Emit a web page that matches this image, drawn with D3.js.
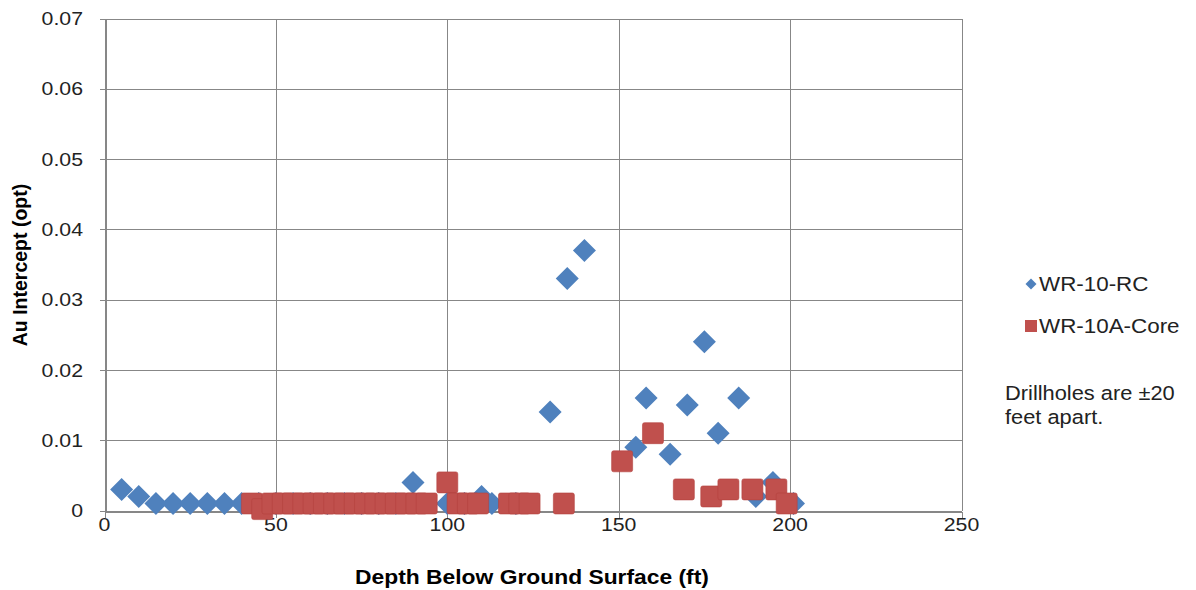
<!DOCTYPE html>
<html>
<head>
<meta charset="utf-8">
<script src="https://cdn.jsdelivr.net/npm/d3@7/dist/d3.min.js"></script>
<style>
  html, body { margin: 0; padding: 0; background: #fff; }
  svg { display: block; font-family: "Liberation Sans", Arial, sans-serif; }
</style>
</head>
<body>
<svg id="chart" width="1196" height="590"></svg>
<script>
// ---- data ----
const xTicks = [0, 50, 100, 150, 200, 250];
const xTickLabels = ["0", "50", "100", "150", "200", "250"];
const yTicks = [0, 0.01, 0.02, 0.03, 0.04, 0.05, 0.06, 0.07];
const yTickLabels = ["0", "0.01", "0.02", "0.03", "0.04", "0.05", "0.06", "0.07"];

const rcDepth = [5, 10, 15, 20, 25, 30, 35, 40, 45, 50, 55, 60, 65, 70, 75, 80, 85, 90, 100, 105, 110, 113, 120, 130, 135, 140, 155, 158, 165, 170, 175, 179, 185, 190, 195, 201];
const rcAu    = [0.003, 0.002, 0.001, 0.001, 0.001, 0.001, 0.001, 0.001, 0.001, 0.001, 0.001, 0.001, 0.001, 0.001, 0.001, 0.001, 0.001, 0.004, 0.001, 0.001, 0.002, 0.001, 0.001, 0.014, 0.033, 0.037, 0.009, 0.016, 0.008, 0.015, 0.024, 0.011, 0.016, 0.002, 0.004, 0.001];

const coreDepth = [43, 46, 49, 52, 55, 58, 61, 64, 67, 70, 73, 76, 79, 82, 85, 88, 91, 94, 100, 103, 106, 109, 118, 121, 124, 134, 151, 160, 169, 177, 182, 189, 196, 199];
const coreAu    = [0.001, 0.0002, 0.001, 0.001, 0.001, 0.001, 0.001, 0.001, 0.001, 0.001, 0.001, 0.001, 0.001, 0.001, 0.001, 0.001, 0.001, 0.001, 0.004, 0.001, 0.001, 0.001, 0.001, 0.001, 0.001, 0.001, 0.007, 0.011, 0.003, 0.002, 0.003, 0.003, 0.003, 0.001];

const seriesNames = ["WR-10-RC", "WR-10A-Core"];
const colors = ["#4F81BD", "#C0504D"];
const xTitle = "Depth Below Ground Surface (ft)";
const yTitle = "Au Intercept (opt)";
const noteLines = ["Drillholes are \u00B120", "feet apart."];

// ---- layout ----
const svg = d3.select("#chart");
const SX = 1.12; // horizontal stretch of the original picture's text
const gridColor = "#878787";

const x = d3.scaleLinear().domain([0, 250]).range([104.5, 961.5]);
const y = d3.scaleLinear().domain([0, 0.07]).range([510.5, 18.5]);

function stretchedText(parent, px, py, str, opts) {
  const g = parent.append("g").attr("transform", `translate(${px},${py}) scale(${SX},1)`);
  return g.append("text")
    .attr("x", 0).attr("y", 0)
    .attr("text-anchor", opts.anchor || "start")
    .attr("dominant-baseline", opts.baseline || "auto")
    .attr("font-size", opts.size || 19)
    .attr("font-weight", opts.weight || "normal")
    .attr("fill", opts.fill || "#000")
    .text(str);
}

// gridlines
const grid = svg.append("g").attr("shape-rendering", "crispEdges");
grid.selectAll("line.h").data(yTicks).join("line")
  .attr("x1", x(0)).attr("x2", x(250))
  .attr("y1", d => Math.round(y(d)) + 0.5).attr("y2", d => Math.round(y(d)) + 0.5)
  .attr("stroke", gridColor).attr("stroke-width", 1);
grid.selectAll("line.v").data(xTicks).join("line")
  .attr("y1", y(0)).attr("y2", y(0.07))
  .attr("x1", d => Math.round(x(d)) + 0.5).attr("x2", d => Math.round(x(d)) + 0.5)
  .attr("stroke", gridColor).attr("stroke-width", 1);

// axes (lines + ticks) via d3 axis
const xAxis = svg.append("g")
  .attr("transform", `translate(0,${Math.round(y(0)) + 0.5})`)
  .call(d3.axisBottom(x).tickValues(xTicks).tickFormat("").tickSizeInner(6).tickSizeOuter(0));
const yAxis = svg.append("g")
  .attr("transform", `translate(${Math.round(x(0)) + 0.5},0)`)
  .call(d3.axisLeft(y).tickValues(yTicks).tickFormat("").tickSizeInner(6).tickSizeOuter(0));
[xAxis, yAxis].forEach(a => {
  a.selectAll("path,line").attr("stroke", gridColor).attr("shape-rendering", "crispEdges");
});

// tick labels
const labels = svg.append("g");
yTicks.forEach((v, i) => {
  stretchedText(labels, 83, y(v), yTickLabels[i], { anchor: "end", baseline: "central", size: 19, fill: "#222" });
});
xTicks.forEach((v, i) => {
  stretchedText(labels, x(v), 531, xTickLabels[i], { anchor: "middle", size: 19, fill: "#222" });
});

// axis titles
stretchedText(labels, 532, 584, xTitle, { anchor: "middle", size: 20.4, weight: "bold" });
labels.append("text")
  .attr("transform", `translate(27,265) rotate(-90)`)
  .attr("text-anchor", "middle")
  .attr("font-size", 19.5).attr("font-weight", "bold")
  .text(yTitle);

// markers
const plot = svg.append("g");
const rc = rcDepth.map((d, i) => ({ d, v: rcAu[i] }));
const core = coreDepth.map((d, i) => ({ d, v: coreAu[i] }));
const H = 11.5; // half-diagonal of diamond
const diamondPath = `M0,${-H}L${H},0L0,${H}L${-H},0Z`;
plot.selectAll("path.rc").data(rc).join("path")
  .attr("class", "rc")
  .attr("d", diamondPath)
  .attr("transform", p => `translate(${x(p.d)},${y(p.v)})`)
  .attr("fill", colors[0]);
const S = 21;
plot.selectAll("rect.core").data(core).join("rect")
  .attr("class", "core")
  .attr("x", p => x(p.d) - S / 2).attr("y", p => y(p.v) - S / 2)
  .attr("width", S).attr("height", S).attr("rx", 2)
  .attr("fill", colors[1])
  .attr("stroke", "#b4413e").attr("stroke-width", 0.6);

// legend
const leg = svg.append("g");
const h2 = 5.5;
leg.append("path").attr("d", `M0,${-h2}L${h2},0L0,${h2}L${-h2},0Z`)
  .attr("transform", "translate(1031,284)").attr("fill", colors[0]);
stretchedText(leg, 1039, 284, seriesNames[0], { baseline: "central", size: 20, fill: "#222" });
leg.append("rect").attr("x", 1025).attr("y", 320).attr("width", 12).attr("height", 12).attr("fill", colors[1]);
stretchedText(leg, 1039, 326, seriesNames[1], { baseline: "central", size: 20, fill: "#222" });

// note
noteLines.forEach((t, i) => {
  stretchedText(leg, 1005, 393 + i * 24, t, { baseline: "central", size: 19.5, fill: "#222" });
});
</script>
</body>
</html>
